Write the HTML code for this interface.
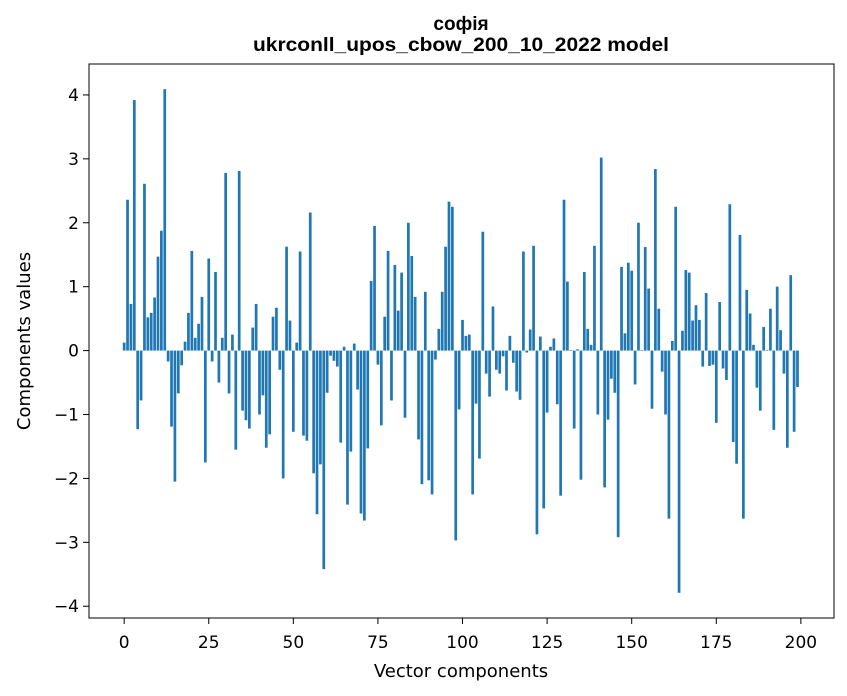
<!DOCTYPE html>
<html><head><meta charset="utf-8">
<style>
body{margin:0;background:#fff;}
svg{display:block;font-family:"DejaVu Sans",sans-serif;}
</style></head>
<body>
<svg id="chart" width="847" height="696" viewBox="0 0 847 696">
<rect width="847" height="696" fill="#fff"/>
<text x="461" y="30" text-anchor="middle" font-size="19" font-weight="bold" font-family="Liberation Sans, sans-serif">софія</text>
<text x="461" y="51" text-anchor="middle" font-size="19" font-weight="bold" font-family="Liberation Sans, sans-serif" textLength="416" lengthAdjust="spacingAndGlyphs">ukrconll_upos_cbow_200_10_2022 model</text>
<g id="bars"></g>
<g id="xticks"></g>
<g id="yticks"></g>
<rect x="89" y="64" width="745" height="554" fill="none" stroke="#000" stroke-width="1"/>
<text x="461" y="677" text-anchor="middle" font-size="18">Vector components</text>
<text transform="translate(30,341) rotate(-90)" text-anchor="middle" font-size="18">Components values</text>
</svg>
<script>
const values = [
0.125,2.36,0.73,3.92,-1.23,-0.78,2.61,0.52,0.59,0.83,
1.47,1.875,4.09,-0.17,-1.19,-2.05,-0.67,-0.23,0.14,0.59,
1.56,0.2,0.42,0.84,-1.75,1.44,-0.17,1.23,-0.5,0.2,
2.78,-0.67,0.25,-1.55,2.81,-0.94,-1.09,-1.22,0.36,0.73,
-1.0,-0.7,-1.52,-1.31,0.53,0.67,-0.3,-2.0,1.625,0.47,
-1.27,0.125,1.55,-1.33,-1.41,2.16,-1.92,-2.56,-1.78,-3.42,
-0.66,-0.08,-0.16,-0.25,-1.44,0.06,-2.41,-1.58,0.11,-0.61,
-2.55,-2.66,-1.53,1.09,1.95,-0.22,-1.17,0.53,1.56,-0.78,
1.34,0.625,1.22,-1.05,2.0,1.48,0.84,-1.39,-2.09,0.92,
-2.03,-2.25,-0.14,0.34,0.92,1.625,2.33,2.25,-2.97,-0.92,
0.48,0.23,0.25,-2.25,-0.83,-1.69,1.86,-0.36,-0.72,0.69,
-0.3,-0.36,-0.09,-0.625,0.23,-0.19,-0.64,-0.77,1.55,-0.03,
0.33,1.64,-2.875,0.22,-2.47,-0.97,0.06,0.19,-0.84,-2.27,
2.36,1.08,0.01,-1.22,0.02,-2.02,1.23,0.34,0.09,1.64,
-1.0,3.02,-2.14,-1.08,-0.44,-0.66,-2.92,1.31,0.27,1.375,
1.25,-0.53,2.0,0.01,1.62,0.97,-0.91,2.84,0.655,-0.33,
-1.0,-2.63,0.15,2.25,-3.79,0.31,1.26,1.22,0.47,0.71,
0.48,-0.25,0.9,-0.24,-0.22,-1.13,0.76,-0.28,-0.46,2.29,
-1.43,-1.77,1.81,-2.63,0.95,0.58,0.09,-0.58,-0.94,0.37,
0.01,0.655,-1.24,1.0,0.32,-0.36,-1.52,1.18,-1.27,-0.57
];
const xTicks = [0,25,50,75,100,125,150,175,200];
const yTicks = [-4,-3,-2,-1,0,1,2,3,4];
const xMin = -10.39, xMax = 209.79, yMin = -4.184, yMax = 4.484;
const L=89,R=834,T=64,B=618;
const NS="http://www.w3.org/2000/svg";
function sx(v){return L+(v-xMin)/(xMax-xMin)*(R-L);}
function sy(v){return B-(v-yMin)/(yMax-yMin)*(B-T);}
const bars=document.getElementById('bars');
values.forEach((v,i)=>{
  const r=document.createElementNS(NS,'rect');
  const x0=sx(i-0.4),x1=sx(i+0.4);
  const y0=sy(Math.max(v,0)),y1=sy(Math.min(v,0));
  r.setAttribute('x',x0);r.setAttribute('width',x1-x0);
  r.setAttribute('y',y0);r.setAttribute('height',Math.max(y1-y0,0));
  r.setAttribute('fill','#1f77b4');
  
  
  bars.appendChild(r);
});
const xg=document.getElementById('xticks');
xTicks.forEach(t=>{
  const x=sx(t);
  const l=document.createElementNS(NS,'line');
  l.setAttribute('x1',x);l.setAttribute('x2',x);l.setAttribute('y1',B);l.setAttribute('y2',B+6);
  l.setAttribute('stroke','#000');
  
  
  xg.appendChild(l);
  const tx=document.createElementNS(NS,'text');
  tx.setAttribute('x',x);tx.setAttribute('y',B+30);tx.setAttribute('text-anchor','middle');tx.setAttribute('font-size','17');
  tx.textContent=t;
  
  
  xg.appendChild(tx);
});
const yg=document.getElementById('yticks');
yTicks.forEach(t=>{
  const y=sy(t);
  const l=document.createElementNS(NS,'line');
  l.setAttribute('x1',L-6);l.setAttribute('x2',L);l.setAttribute('y1',y);l.setAttribute('y2',y);
  l.setAttribute('stroke','#000');
  
  
  yg.appendChild(l);
  const tx=document.createElementNS(NS,'text');
  tx.setAttribute('x',L-10);tx.setAttribute('y',y+6);tx.setAttribute('text-anchor','end');tx.setAttribute('font-size','17');
  tx.textContent=t<0?'\u2212'+Math.abs(t):String(t);
  
  
  yg.appendChild(tx);
});
</script>
</body></html>
